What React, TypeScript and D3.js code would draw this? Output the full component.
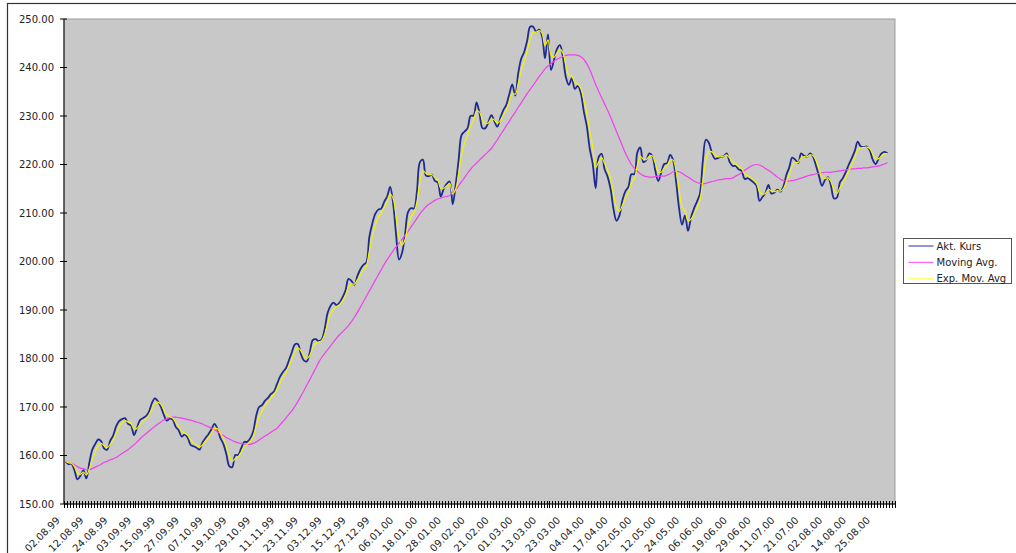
import React from "react";
import * as d3 from "d3";

// Daily closing price (Akt. Kurs), one value per trading day starting 02.08.99
const PRICE = [
  158.8, 158.2, 158.3, 157.0, 155.1, 155.8, 157.0, 155.3, 158.5, 161.2,
  162.4, 163.3, 162.9, 161.4, 161.2, 163.0, 164.1, 166.0, 167.1, 167.5,
  167.7, 166.5, 166.2, 164.2, 165.7, 167.3, 167.7, 168.1, 169.0, 170.8,
  171.8, 171.2, 170.1, 168.4, 167.2, 167.6, 167.4, 165.9, 165.2, 163.9,
  164.3, 163.7, 162.2, 161.9, 161.6, 161.2, 162.7, 163.6, 164.4, 165.4,
  166.5, 165.5, 163.6, 162.4, 160.3, 157.8, 157.6, 160.1, 160.1, 161.5,
  162.8, 162.8, 163.5, 164.9, 168.1, 170.0, 170.4, 171.3, 171.9, 172.7,
  173.2, 174.7, 176.2, 177.2, 178.0, 179.6, 181.3, 182.9, 183.0, 181.0,
  179.6, 179.4, 181.2, 183.8, 184.0, 183.6, 183.9, 186.0, 189.4, 190.9,
  191.5, 191.0, 191.5, 192.6, 194.0, 196.4, 196.0, 195.2, 197.0, 198.4,
  199.3, 199.8, 205.0, 207.8, 209.8, 210.7, 210.9, 212.3, 213.4, 215.4,
  212.0, 205.5, 200.4, 201.8, 205.6, 210.2, 211.0, 210.9, 214.5, 220.5,
  221.0, 217.7, 217.6, 217.9, 216.6, 216.3, 213.4, 215.0, 216.0, 216.5,
  211.8, 215.8, 221.0, 226.1, 226.8, 227.5, 230.0, 230.1, 232.8, 230.6,
  227.5, 227.5, 228.8, 230.2, 228.9, 227.8, 229.6, 231.2, 232.3, 234.5,
  236.5, 234.2, 238.8, 241.8, 243.2, 245.5, 248.4, 248.4, 247.4, 247.8,
  246.5, 241.9, 246.8, 239.5, 241.5, 243.8, 244.6, 242.2, 238.0, 236.4,
  237.8, 235.6, 236.2, 234.8, 231.0, 228.0, 223.3, 220.2, 215.1, 221.5,
  222.2, 219.0, 217.5, 215.0, 210.8, 208.4, 209.5, 212.7, 214.5, 215.4,
  218.0, 218.0, 222.5, 223.5, 220.5, 220.9, 222.3, 221.8, 218.8, 216.6,
  218.3, 220.1, 220.3, 222.0, 220.9, 216.5, 211.0, 207.6, 209.5, 206.3,
  209.0, 210.9, 212.3, 214.0, 220.8, 225.1, 224.5, 222.4, 221.2, 221.3,
  221.6, 221.7, 222.3, 220.5, 219.7, 219.7, 219.0, 218.7, 217.0, 217.2,
  216.8, 216.3, 215.6, 212.5, 213.3, 214.1, 215.8, 214.0, 214.2, 214.8,
  214.4, 215.4, 217.8, 219.4, 221.4, 221.0, 220.3, 222.3, 221.8, 221.6,
  222.3, 221.6, 219.7, 217.6, 215.6, 216.8, 217.4, 215.6, 213.0, 213.2,
  216.3, 217.2, 218.5, 220.0, 221.3, 222.8, 224.7, 223.7, 223.6, 223.7,
  223.0, 221.0, 220.1, 221.2, 222.3, 222.6, 222.3,
];

// Moving average
const MOVING_AVG = [
  158.8, 158.5, 158.4, 158.1, 157.7, 157.4, 157.3, 157.1, 157.1, 157.3,
  157.6, 157.9, 158.2, 158.6, 158.8, 159.1, 159.3, 159.6, 160.0, 160.4,
  160.8, 161.2, 161.7, 162.2, 162.8, 163.4, 164.0, 164.5, 165.0, 165.5,
  166.0, 166.5, 166.9, 167.3, 167.6, 167.8, 167.9, 167.9, 167.8, 167.7,
  167.6, 167.4, 167.3, 167.1, 166.9, 166.7, 166.5, 166.2, 165.9, 165.7,
  165.3, 164.9, 164.5, 164.1, 163.7, 163.4, 163.1, 162.8, 162.6, 162.5,
  162.4, 162.3, 162.3, 162.5, 162.8, 163.2, 163.6, 164.0, 164.4, 164.8,
  165.2, 165.6, 166.3, 167.0, 167.7, 168.5, 169.2, 170.1, 171.1, 172.2,
  173.3, 174.5, 175.6, 176.8, 178.0, 179.2, 180.2, 181.0, 181.8, 182.6,
  183.4, 184.2, 184.9, 185.5, 186.1, 186.8, 187.6, 188.5, 189.5, 190.6,
  191.7, 192.8, 193.9, 195.0, 196.1, 197.2, 198.3, 199.4, 200.4, 201.3,
  202.2, 203.0, 203.8, 204.6, 205.4, 206.2, 207.1, 208.0, 208.9, 209.8,
  210.6, 211.3, 211.8, 212.2, 212.6, 212.9, 213.1, 213.3, 213.4, 213.6,
  214.1, 214.8, 215.6, 216.5, 217.3, 218.2, 219.0, 219.7, 220.3, 220.9,
  221.5, 222.1, 222.7, 223.3, 224.2, 225.1, 226.1, 227.0, 228.0, 228.9,
  229.9, 230.8, 231.8, 232.7, 233.7, 234.6, 235.5, 236.3, 237.2, 238.1,
  238.9, 239.7, 240.3, 240.8, 241.3, 241.7, 242.0, 242.3, 242.5, 242.6,
  242.6, 242.6, 242.5, 242.2, 241.7, 240.8, 239.6, 238.1, 236.5, 235.1,
  233.8, 232.5, 231.2, 229.8, 228.3, 226.8, 225.3, 223.8, 222.3, 221.1,
  220.0, 219.2, 218.6, 218.1, 217.7, 217.5, 217.4, 217.4, 217.5, 217.6,
  217.6, 217.6, 217.8, 218.1, 218.5, 218.6, 218.5, 218.2, 217.8, 217.4,
  217.0, 216.6, 216.3, 216.1, 216.0, 216.1, 216.3, 216.5, 216.6, 216.8,
  216.9, 217.0, 217.1, 217.1, 217.2, 217.6, 217.9, 218.3, 218.8, 219.2,
  219.6, 219.9, 220.0, 219.9, 219.6, 219.2, 218.8, 218.4, 217.9, 217.4,
  217.0, 216.7, 216.6, 216.6, 216.7, 216.8, 217.0, 217.2, 217.4, 217.6,
  217.8, 217.9, 218.1, 218.2, 218.3, 218.4, 218.4, 218.4, 218.5, 218.6,
  218.7, 218.8, 218.9, 219.0, 219.1, 219.1, 219.2, 219.2, 219.3, 219.3,
  219.4, 219.5, 219.6, 219.7, 219.9, 220.1, 220.4,
];

// Exponential moving average
const EXP_MOV_AVG = [
  158.8, 158.5, 158.4, 157.7, 156.4, 156.1, 156.6, 156.0, 157.2, 159.2,
  160.8, 162.1, 162.5, 162.0, 161.6, 162.3, 163.2, 164.6, 165.9, 166.7,
  167.2, 166.9, 166.6, 165.4, 165.6, 166.4, 167.1, 167.6, 168.3, 169.6,
  170.7, 171.0, 170.6, 169.5, 168.4, 168.0, 167.7, 166.8, 166.0, 165.0,
  164.6, 164.2, 163.2, 162.6, 162.1, 161.7, 162.2, 162.9, 163.7, 164.6,
  165.6, 165.5, 164.6, 163.5, 161.9, 159.9, 158.8, 159.4, 159.8, 160.7,
  161.8, 162.3, 162.9, 163.9, 166.0, 168.0, 169.2, 170.3, 171.1, 171.9,
  172.6, 173.7, 175.0, 176.1, 177.1, 178.4, 179.9, 181.4, 182.2, 181.6,
  180.6, 180.0, 180.6, 182.2, 183.1, 183.4, 183.7, 184.9, 187.2, 189.1,
  190.3, 190.7, 191.1, 191.9, 193.0, 194.7, 195.4, 195.3, 196.2, 197.3,
  198.3, 199.1, 202.1, 205.0, 207.4, 209.1, 210.0, 211.2, 212.3, 213.9,
  213.0, 209.3, 204.9, 203.4, 204.5, 207.4, 209.2, 210.1, 212.3, 216.4,
  218.7, 218.2, 217.9, 217.9, 217.3, 216.8, 215.1, 215.1, 215.6, 216.1,
  214.0, 214.9, 218.0, 222.1, 224.5, 226.0, 228.0, 229.1, 231.0, 230.8,
  229.2, 228.4, 228.6, 229.4, 229.2, 228.5, 229.1, 230.2, 231.3, 232.9,
  234.7, 234.5, 236.7, 239.3, 241.3, 243.4, 245.9, 247.2, 247.3, 247.6,
  247.1, 244.5, 245.7, 242.6, 242.1, 243.0, 243.8, 243.0, 240.5, 238.5,
  238.2, 236.9, 236.6, 235.7, 233.4, 230.7, 227.0, 223.6, 219.4, 220.5,
  221.4, 220.2, 218.9, 217.0, 213.9, 211.2, 210.4, 211.6, 213.1, 214.3,
  216.2, 217.1, 219.8, 221.7, 221.1, 221.0, 221.7, 221.8, 220.3, 218.5,
  218.4, 219.3, 219.8, 220.9, 220.9, 218.7, 214.9, 211.3, 210.4, 208.4,
  208.7, 209.8, 211.1, 212.6, 216.7, 220.9, 222.7, 222.6, 221.9, 221.6,
  221.6, 221.7, 222.0, 221.3, 220.5, 220.1, 219.6, 219.2, 218.1, 217.7,
  217.3, 216.8, 216.2, 214.4, 213.9, 214.0, 214.9, 214.5, 214.4, 214.6,
  214.5, 215.0, 216.4, 217.9, 219.7, 220.4, 220.4, 221.4, 221.6, 221.6,
  222.0, 221.8, 220.8, 219.2, 217.4, 217.1, 217.3, 216.5, 214.8, 214.0,
  215.2, 216.2, 217.4, 218.7, 220.0, 221.4, 223.1, 223.4, 223.5, 223.6,
  223.3, 222.2, 221.2, 221.2, 221.8, 222.2, 222.3,
];

// Category axis labels, one on every 8th trading day
const X_LABELS = [
  "02.08.99", "12.08.99", "24.08.99", "03.09.99", "15.09.99", "27.09.99",
  "07.10.99", "19.10.99", "29.10.99", "11.11.99", "23.11.99", "03.12.99",
  "15.12.99", "27.12.99", "06.01.00", "18.01.00", "28.01.00", "09.02.00",
  "21.02.00", "01.03.00", "13.03.00", "23.03.00", "04.04.00", "17.04.00",
  "02.05.00", "12.05.00", "24.05.00", "06.06.00", "19.06.00", "29.06.00",
  "11.07.00", "21.07.00", "02.08.00", "14.08.00", "25.08.00",
];
const LABEL_EVERY = 8;
const CATEGORY_COUNT = 279;

const Y_TICKS = [150, 160, 170, 180, 190, 200, 210, 220, 230, 240, 250];

const SERIES = [
  { name: "Akt. Kurs", values: PRICE, color: "#1e2b8e", width: 1.8, legendColor: "#2a2aa0" },
  { name: "Moving Avg.", values: MOVING_AVG, color: "#f040f0", width: 1.2, legendColor: "#ff40ff" },
  { name: "Exp. Mov. Avg", values: EXP_MOV_AVG, color: "#f4f400", width: 1.2, legendColor: "#ffff60" },
];

const FONT = "'DejaVu Sans', Verdana, sans-serif";

export default function App() {
  const width = 1016;
  const height = 553;
  const plot = { left: 64, top: 19, right: 895, bottom: 504 };

  const x = d3
    .scaleBand<number>()
    .domain(d3.range(CATEGORY_COUNT))
    .range([plot.left, plot.right])
    .paddingInner(0)
    .paddingOuter(0);
  const y = d3.scaleLinear().domain([150, 250]).range([plot.bottom, plot.top]);
  const cx = (i: number) => (x(i) as number) + x.bandwidth() / 2;

  const line = d3
    .line<number>()
    .x((_, i) => cx(i))
    .y((d) => y(d))
    .curve(d3.curveCatmullRom.alpha(0.5));

  const tickXs = [...d3.range(CATEGORY_COUNT).map((k) => x(k) as number), plot.right];

  const legend = { x: 903.5, y: 238.5, w: 108, h: 45, row: 16.3 };

  return (
    <svg
      width={width}
      height={height}
      style={{ position: "absolute", left: 0, top: 0, background: "#fff" }}
      fontFamily={FONT}
    >
      {/* chart frame */}
      <rect x={7.5} y={3.5} width={width} height={height} fill="#fff" stroke="#333" strokeWidth={1.2} />

      {/* plot area */}
      <rect
        x={plot.left}
        y={plot.top}
        width={plot.right - plot.left}
        height={plot.bottom - plot.top}
        fill="#c8c8c8"
        stroke="#9c9c9c"
        strokeWidth={1}
      />

      {/* series */}
      <g clipPath="url(#plotClip)">
        {SERIES.map((s) => (
          <path
            key={s.name}
            d={line(s.values) ?? ""}
            fill="none"
            stroke={s.color}
            strokeWidth={s.width}
            strokeLinejoin="round"
          />
        ))}
      </g>
      <defs>
        <clipPath id="plotClip">
          <rect x={plot.left} y={plot.top - 2} width={plot.right - plot.left} height={plot.bottom - plot.top + 2} />
        </clipPath>
      </defs>

      {/* y axis */}
      <line x1={plot.left} x2={plot.left} y1={plot.top} y2={plot.bottom} stroke="#000" strokeWidth={1} />
      {Y_TICKS.map((t) => (
        <g key={t}>
          <line x1={plot.left - 4} x2={plot.left + 3} y1={y(t)} y2={y(t)} stroke="#000" strokeWidth={1} />
          <text x={54} y={y(t)} dy="0.35em" textAnchor="end" fontSize={10} fill="#222">
            {t.toFixed(2)}
          </text>
        </g>
      ))}

      {/* x axis */}
      <line x1={plot.left} x2={plot.right} y1={plot.bottom} y2={plot.bottom} stroke="#000" strokeWidth={1} />
      {tickXs.map((tx, k) => (
        <line
          key={k}
          x1={Math.round(tx) + 0.5}
          x2={Math.round(tx) + 0.5}
          y1={plot.bottom - 3}
          y2={plot.bottom + 4}
          stroke="#000"
          strokeWidth={1}
        />
      ))}
      {X_LABELS.map((lab, j) => {
        const ax = cx(j * LABEL_EVERY) - 5;
        const ay = plot.bottom + 17;
        return (
          <text
            key={lab}
            x={ax}
            y={ay}
            textAnchor="end"
            fontSize={10}
            fill="#222"
            transform={`rotate(-45, ${ax}, ${ay})`}
          >
            {lab}
          </text>
        );
      })}

      {/* legend */}
      <rect x={legend.x} y={legend.y} width={legend.w} height={legend.h} fill="#fff" stroke="#555" strokeWidth={1} />
      {SERIES.map((s, k) => {
        const ry = legend.y + 7.5 + k * legend.row;
        return (
          <g key={s.name}>
            <line x1={legend.x + 5} x2={legend.x + 30} y1={ry} y2={ry} stroke={s.legendColor} strokeWidth={1} />
            <text x={legend.x + 33} y={ry} dy="0.35em" fontSize={10} fill="#222">
              {s.name}
            </text>
          </g>
        );
      })}
    </svg>
  );
}
